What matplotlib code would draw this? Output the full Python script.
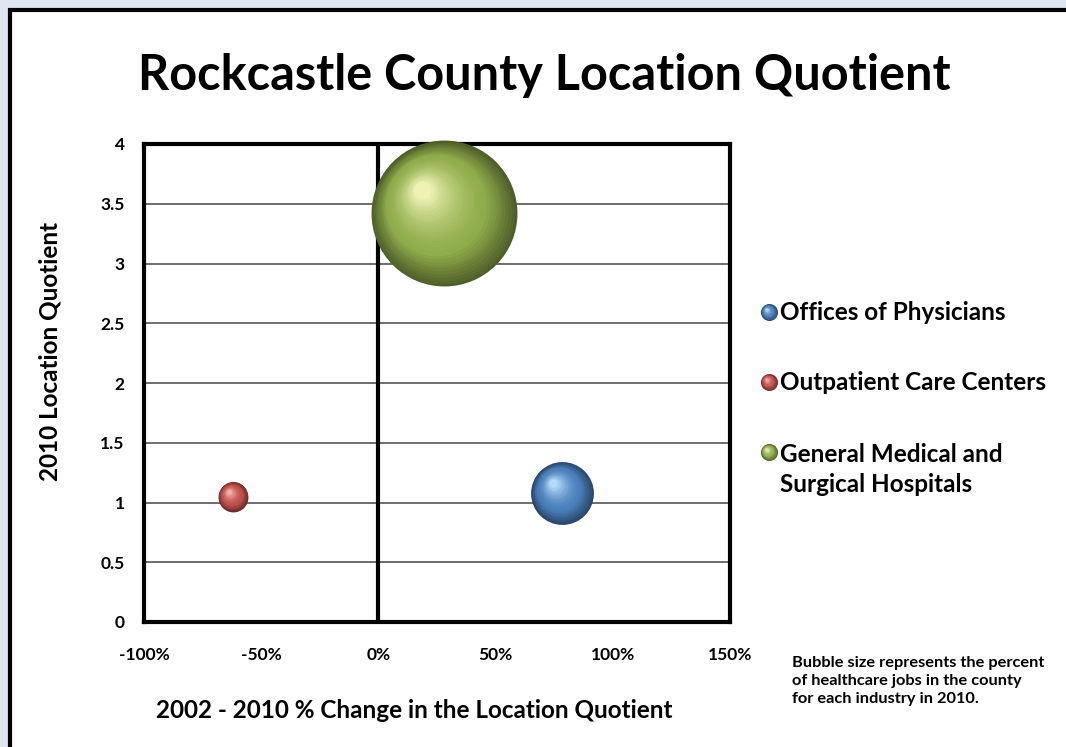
import numpy as np
import matplotlib
matplotlib.use("Agg")
import matplotlib.pyplot as plt
from matplotlib.patches import Rectangle
from matplotlib.ticker import PercentFormatter
from matplotlib.transforms import offset_copy
from matplotlib.colors import to_rgb

plt.rcParams['font.family'] = ['Lato', 'DejaVu Sans']
plt.rcParams['font.weight'] = 'bold'
plt.rcParams['axes.labelweight'] = 'bold'
plt.rcParams['axes.unicode_minus'] = False

# data
industries = ["Offices of Physicians", "Outpatient Care Centers",
              "General Medical and\nSurgical Hospitals"]
lq_change = [78.5, -62.0, 28.0]      # 2002-2010 % change in LQ
lq_2010 = [1.08, 1.05, 3.42]         # 2010 location quotient
job_share = [11.5, 2.6, 62.0]        # bubble size (% of healthcare jobs)
base_colors = ["#4a7ebb", "#c0504d", "#8fad4b"]
light_colors = ["#b4dcf6", "#f4b4ac", "#eef2b4"]

x_ticks = [-100, -50, 0, 50, 100, 150]
y_ticks = [0, 0.5, 1, 1.5, 2, 2.5, 3, 3.5, 4]

fig = plt.figure(figsize=(10.66, 7.47), dpi=100, facecolor="#dfe5f1")

# white panel with black frame
fig.patches.append(Rectangle((10 / 1066, -0.05), 1.2, 1 - 10 / 747 + 0.05,
                             transform=fig.transFigure, facecolor="white",
                             edgecolor="black", linewidth=3, zorder=-5))


def mix(a, b, t):
    a, b = np.array(to_rgb(a)), np.array(to_rgb(b))
    return tuple(a + (b - a) * t)


def sphere(ax, x, y, size, base, light, transform, z=5, n=30):
    r = np.sqrt(size) / 2
    dark = mix(base, "black", 0.45)
    for i in range(n):
        t = i / (n - 1)
        f = 1 - 0.88 * t
        if t < 0.35:
            col = mix(dark, base, t / 0.35)
        else:
            col = mix(base, light, ((t - 0.35) / 0.65) ** 1.6)
        tr = offset_copy(transform, fig=fig, x=-0.3 * r * t, y=0.32 * r * t, units='points')
        ax.scatter([x], [y], s=size * f ** 2, color=col, linewidths=0,
                   transform=tr, zorder=z + i * 0.01, clip_on=False)


ax = fig.add_axes([144 / 1066, 1 - 622 / 747, 586 / 1066, 478 / 747])
ax.set_facecolor("none")
ax.set_xlim(-100, 150)
ax.set_ylim(0, 4)
ax.set_xticks(x_ticks)
ax.set_yticks(y_ticks)
ax.set_yticklabels(["0", "0.5", "1", "1.5", "2", "2.5", "3", "3.5", "4"])
ax.xaxis.set_major_formatter(PercentFormatter(decimals=0))
ax.tick_params(length=0, labelsize=12.5, pad=14)
ax.tick_params(axis='x', pad=18)
for sp in ax.spines.values():
    sp.set_linewidth(3)
ax.grid(axis='y', color="#555555", linewidth=1.2)
ax.set_axisbelow(True)
ax.axvline(0, color="black", linewidth=3, zorder=2)

scale = 178
for xv, yv, js, bc, lc in zip(lq_change, lq_2010, job_share, base_colors, light_colors):
    sphere(ax, xv, yv, js * scale, bc, lc, ax.transData)

ax.set_xlabel("2002 - 2010 % Change in the Location Quotient", fontsize=17.5, va="center")
ax.set_ylabel("2010 Location Quotient", fontsize=17.5, va="center")
ax.xaxis.set_label_coords((414 - 144) / 586, (622 - 710) / 478)
ax.yaxis.set_label_coords((50 - 144) / 586, (622 - 351) / 478)

fig.text(544 / 1066, 1 - 76 / 747, "Rockcastle County Location Quotient",
         fontsize=35, ha="center", va="center")

# legend drawn by hand
overlay = fig.add_axes([0, 0, 1, 1])
overlay.set_axis_off()
overlay.set_xlim(0, 1)
overlay.set_ylim(0, 1)
leg_y = [312, 382, 452]
for lbl, yy, bc, lc in zip(industries, leg_y, base_colors, light_colors):
    sphere(overlay, 769 / 1066, 1 - yy / 747, 150, bc, lc, fig.transFigure, n=12)
    if "\n" in lbl:
        fig.text(780 / 1066, 1 - (yy + 17.5) / 747, lbl, fontsize=17.5, ha="left",
                 va="center", linespacing=1.4)
    else:
        fig.text(780 / 1066, 1 - yy / 747, lbl, fontsize=17.5, ha="left", va="center")

fig.text(792 / 1066, 1 - 681 / 747,
         "Bubble size represents the percent\nof healthcare jobs in the county\nfor each industry in 2010.",
         fontsize=11.8, ha="left", va="center", linespacing=1.4)

fig.savefig("out.png", dpi=100, facecolor=fig.get_facecolor())
